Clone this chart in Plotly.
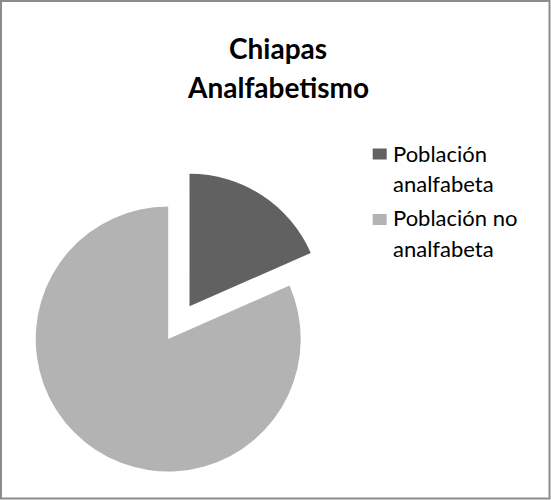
import math
import plotly.graph_objects as go

# Data
labels = ["Población analfabeta", "Población no analfabeta"]
values = [18.4, 81.6]
colors = ["#616161", "#b3b3b3"]
title_lines = ["Chiapas", "Analfabetismo"]
legend_lines = [["Población", "analfabeta"], ["Población no", "analfabeta"]]

# Canvas geometry (pixels)
W, H = 551, 500
R = 132.5                      # pie radius
CX, CY = 168.2, 339.0          # pie centre
PULL = 39.0                    # explode distance of the first slice
FONT = "Lato, 'Open Sans', sans-serif"


def px_x(x):
    return x / W


def px_y(y):
    return 1 - y / H


def domain(cx, cy):
    return dict(x=[(cx - R) / W, (cx + R) / W],
                y=[(H - cy - R) / H, (H - cy + R) / H])


total = sum(values)
mid = math.radians(360 * values[0] / total / 2)
centres = [(CX + PULL * math.sin(mid), CY - PULL * math.cos(mid)), (CX, CY)]

fig = go.Figure()
# One pie per slice so the first slice can sit exploded away from the rest
for i, (cx, cy) in enumerate(centres):
    slice_colors = [c if j == i else "rgba(0,0,0,0)" for j, c in enumerate(colors)]
    fig.add_trace(go.Pie(
        labels=labels, values=values, sort=False, direction="clockwise",
        rotation=0, marker=dict(colors=slice_colors, line=dict(width=0)),
        textinfo="none", hoverinfo="label+percent", showlegend=False,
        domain=domain(cx, cy),
    ))

annotations = []
shapes = []

# Title, two centred bold lines
for line, base in zip(title_lines, [58, 96.5]):
    annotations.append(dict(
        text=f"<b>{line}</b>", x=px_x(278), y=px_y(base - 9.5),
        xref="paper", yref="paper", xanchor="center", yanchor="middle",
        showarrow=False, font=dict(family=FONT, size=28, color="#000000"),
    ))

# Legend: swatch plus wrapped label
legend_tops = [148.5, 214]
legend_bases = [[160, 190], [225, 255]]
for k in range(len(labels)):
    top = legend_tops[k]
    shapes.append(dict(
        type="rect", xref="paper", yref="paper",
        x0=px_x(372.7), x1=px_x(386.7), y0=px_y(top + 11), y1=px_y(top),
        fillcolor=colors[k], line=dict(width=0),
    ))
    for line, base in zip(legend_lines[k], legend_bases[k]):
        annotations.append(dict(
            text=line, x=px_x(391), y=px_y(base - 7),
            xref="paper", yref="paper", xanchor="left", yanchor="middle",
            showarrow=False, font=dict(family=FONT, size=22, color="#000000"),
        ))

# Outer frame
shapes.append(dict(
    type="rect", xref="paper", yref="paper",
    x0=px_x(1), x1=px_x(549.5), y0=px_y(498.5), y1=px_y(1),
    line=dict(color="#8c8c8c", width=2), fillcolor="rgba(0,0,0,0)",
))

fig.update_layout(
    width=W, height=H, margin=dict(l=0, r=0, t=0, b=0),
    paper_bgcolor="#ffffff", plot_bgcolor="#ffffff",
    annotations=annotations, shapes=shapes,
)

fig.write_html("out.html")
